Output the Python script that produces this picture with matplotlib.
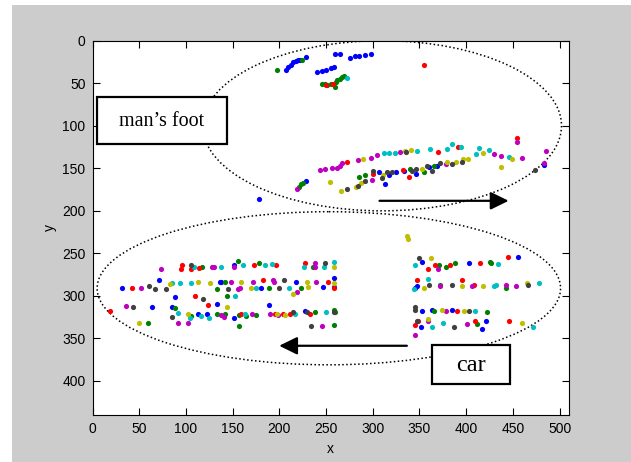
import matplotlib
matplotlib.use('Agg')
import matplotlib.pyplot as plt
from matplotlib import patches

# tracked feature points, one list of (x, y) per colour
blue_pts = [(206.7, 34.1), (209.6, 31), (212.4, 28.2), (214.9, 25.5), (217.4, 23.9),
            (219.5, 23.1), (221.6, 23.1), (228, 19.6), (259.3, 15.3), (265.2, 15.3),
            (275.9, 20.8), (280.9, 18), (285.1, 17.6), (291.2, 16.5), (298.2, 15.3),
            (240.8, 37.3), (245.7, 35.3), (250.3, 34.1), (255, 32.6), (258.5, 30.6),
            (178.7, 186.3), (228, 164.7), (307.1, 154.9), (313.1, 169), (317.8, 158.4),
            (324.8, 154.9), (333.3, 153.7), (346.1, 156.5), (359.9, 148.6), (368.4, 147),
            (483.6, 146.5),
            (31.2, 290.2), (71.6, 281.2), (87.9, 300.8), (64.2, 312.5), (85.5, 312.5),
            (112.4, 320.9), (122.7, 320.9), (133.3, 309.4), (151, 263.5), (136.2, 283.1),
            (137.6, 283.1), (151.8, 325.5), (180.1, 291), (189.4, 311), (217.4, 283.1),
            (227.3, 317.6), (246.8, 289.3), (258.2, 279.1), (258.2, 289),
            (352.2, 259.6), (403.2, 260.8), (455.7, 254.5), (347.1, 287.8), (345, 291),
            (352.6, 318.1), (363.8, 316.9), (385.1, 316.5), (351.8, 336.3), (421, 329.2),
            (417.4, 338.6)]

green_pts = [(198, 35), (224.5, 23.1), (245.7, 50.6), (248.6, 51.4), (251.4, 51.8),
             (255, 50.6), (259.9, 54.5), (260.3, 49), (262, 46.7), (264.6, 45.1),
             (267, 42.7), (268.8, 42), (221.3, 171.4), (223.7, 169), (225.5, 166.7),
             (285.1, 160.4), (291.8, 157.6), (339.7, 151), (354.3, 154.9), (365.2, 147),
             (116.7, 265.5), (155.3, 258.4), (178.7, 261.6), (236.2, 266.3), (141.5, 283.1),
             (133.3, 292.2), (189.4, 291), (222.7, 291), (143.6, 299.6), (88, 314.5),
             (58.9, 331.5), (105.3, 324), (133.3, 320.9), (141.5, 320.9), (156.7, 322.4),
             (164.5, 323.5), (175.2, 322.4), (238.3, 318.8), (258.2, 316.5), (259.3, 318.8),
             (156.7, 335.3), (258.2, 334.1),
             (370.6, 263.5), (378.7, 266.3), (388, 260.8), (425.1, 259.6), (426.6, 261.6),
             (372, 286.7), (442.9, 290.6), (365.2, 317.3), (422.7, 318.8), (412, 333)]

red_pts = [(249.6, 51.8), (257, 50.6), (355, 29), (272.3, 142.4), (369.5, 131.4),
           (391.1, 124.7), (454.6, 113.8), (300, 156.5), (332.6, 152.2), (339, 160.4),
           (96.1, 263.5), (95.1, 268.6), (105.3, 268.6), (114.5, 267.5), (173, 263.5),
           (196.8, 263.5), (227.3, 260.8), (182.3, 281.6), (251.8, 283.1), (258.2, 291),
           (41.8, 290.2), (109.9, 299.6), (18.8, 317.7), (124.1, 311), (159.2, 320.9),
           (195.4, 320.9), (203.5, 320.9), (211.7, 320.9), (232.3, 320.9),
           (358.8, 268.6), (366.7, 263.5), (382.3, 263.5), (414.9, 260.8), (444.3, 254.5),
           (347.1, 281.6), (395, 281.6), (408.1, 286.7), (390, 317.7), (348.6, 329.2),
           (344.7, 334.7), (409.9, 329.2), (446.3, 329.2)]

cyan_pts = [(272.7, 43.9), (312, 132.5), (317.8, 132.5), (323.7, 132.5), (347.2, 129.4),
            (361, 127.8), (379.4, 127.8), (384.4, 121.2), (394.7, 125), (411, 133.7),
            (413.8, 125.9), (424.1, 128.6), (446, 136.8),
            (108.5, 265.5), (138, 265.5), (161.3, 263.5), (184.8, 263.5), (191.8, 262.4),
            (225.9, 266.3), (247.5, 266.3), (258.2, 259.6), (85.1, 285.1), (94, 285.1),
            (105.7, 285.1), (174.5, 291), (210.6, 291), (152.8, 299.6), (91.1, 320.4),
            (104.2, 326.3), (115.9, 324), (125.2, 326.3), (162.8, 320.9), (217.1, 320.9),
            (250, 318.8),
            (345.1, 263.5), (434.4, 262), (358.8, 280.4), (429.8, 287.8), (431.6, 286.7),
            (478, 285.1), (409.9, 317.7), (344, 292), (363.5, 336.3), (375.2, 332),
            (472, 336.3)]

magenta_pts = [(218.8, 174.5), (243.3, 152.2), (248.9, 151), (256, 149.8), (261.7, 149.8),
               (264.6, 147), (266.7, 143.2), (284, 140.8), (297.9, 138), (305, 134),
               (328.7, 131.4), (299.3, 163.5), (378, 144.7), (429.8, 133.7), (437.2, 135.3),
               (459.2, 138), (454.6, 118.8), (482.8, 143.8), (485, 130),
               (73.8, 268.6), (128, 265.5), (129.8, 265.5), (151, 265.5), (238.3, 260.8),
               (238.3, 265.5), (51.4, 290.2), (147.9, 283.1), (171.6, 283.1), (192.9, 281.6),
               (194.3, 283.1), (239.7, 283.1), (155.3, 292.2), (157.8, 291), (218.4, 295),
               (35.5, 311.4), (91.1, 331.5), (101.8, 331.5), (138, 322.4), (141.2, 325.1),
               (170.6, 320.9), (190.4, 320.9), (199, 322), (245.4, 335.3),
               (370.2, 268.6), (372, 288), (406.7, 287.8), (442.9, 286.7), (453.2, 287.8),
               (378.7, 317.7), (358.8, 329.2), (400.7, 333.6), (344.7, 346.3)]

yellow_pts = [(290, 139.2), (334.4, 129.8), (340.8, 128.6), (254.6, 166.3), (265.6, 176.9),
              (281.6, 172.2), (287.6, 167.8), (311.4, 158.4), (352.9, 150.6), (379.4, 143),
              (389, 142), (396.3, 138.8), (402, 138.8), (418.4, 132.5), (437, 148.2),
              (448.9, 139.2),
              (258.2, 266.3), (83, 286.3), (112.4, 283.1), (126.2, 285.1), (158.9, 283.1),
              (229.1, 283.1), (258.2, 284.3), (169.5, 291), (214.9, 298), (230.9, 290),
              (144, 312.5), (49.3, 331.5), (101.8, 320.9), (197.9, 320.9), (206.1, 322.4),
              (336.2, 229.4), (337.2, 233.3), (362.5, 255.7), (355.3, 290.6), (395.7, 287.8),
              (418.4, 287.8), (464.9, 285.1), (373.7, 316.5), (397.8, 317.7), (358.8, 326.8),
              (459.8, 332)]

gray_pts = [(335.5, 131.4), (272.7, 174.1), (284.7, 170.6), (291.8, 165.1), (300.3, 152.6),
            (309.9, 161.6), (314.9, 154.9), (320.2, 154.9), (341.5, 153.7), (346.1, 151),
            (358.5, 147), (363.1, 152.6), (372, 144.3), (385.1, 144.7), (395, 142), (474, 152),
            (105.3, 263.5), (249, 260.8), (60.6, 287.8), (67, 292.2), (78.4, 292.2),
            (144.7, 292.2), (200, 291), (205.3, 281.6), (118.4, 303.9), (43.3, 312.5),
            (85.5, 324.7), (214.9, 319.4), (229.4, 318.8), (233.7, 335.3), (259, 319),
            (349.7, 255.7), (359.9, 286.7), (384.4, 286.7), (466.3, 286.7), (344.7, 312.6),
            (344.7, 316.9), (402.8, 317.7), (346.8, 329.2), (386.9, 336.3)]

series = [(blue_pts, '#0000ff'), (green_pts, '#008000'), (red_pts, '#ff0000'),
          (cyan_pts, '#00bfbf'), (magenta_pts, '#bf00bf'), (yellow_pts, '#bfbf00'),
          (gray_pts, '#404040')]

x_ticks = [0, 50, 100, 150, 200, 250, 300, 350, 400, 450, 500]
y_ticks = [0, 50, 100, 150, 200, 250, 300, 350, 400]

plt.rcParams['font.family'] = ['Liberation Sans Narrow', 'Liberation Sans', 'DejaVu Sans']

fig = plt.figure(figsize=(6.31, 4.62), dpi=100, facecolor='white')
fig.patches.append(patches.Rectangle((12 / 631, 0), 1, 1 - 5 / 462, transform=fig.transFigure,
                                     facecolor='#cccccc', edgecolor='none', zorder=-1))
ax = fig.add_axes([0.1466, 0.1017, 0.7551, 0.8102])

for pts, col in series:
    xs = [p[0] for p in pts]
    ys = [p[1] for p in pts]
    ax.scatter(xs, ys, s=14, c=col, marker='o', linewidths=0, zorder=3)

ax.set_xlim(0, 510)
ax.set_ylim(440, 0)
ax.set_xticks(x_ticks)
ax.set_yticks(y_ticks)
ax.tick_params(direction='in', length=5, width=0.8, top=True, right=True,
               labelsize=10, pad=5)
for sp in ax.spines.values():
    sp.set_linewidth(0.8)
ax.set_xlabel('x', fontsize=10)
ax.set_ylabel('y', fontsize=10)
ax.yaxis.set_label_coords(-0.075, 0.5)

# dotted ellipses round the two moving objects
dots = (0, (1, 1.6))
ax.add_patch(patches.Ellipse((310, 100), 384, 200, fill=False, ec='k', lw=1.1, ls=dots, zorder=2))
ax.add_patch(patches.Ellipse((253, 291), 496, 180, fill=False, ec='k', lw=1.1, ls=dots, zorder=2))

# direction arrows
arrow = dict(arrowstyle='-|>,head_length=0.55,head_width=0.27', mutation_scale=20,
             lw=1.6, color='k', shrinkA=0, shrinkB=0)
ax.annotate('', xy=(445.4, 188.2), xytext=(307.2, 188.2), arrowprops=arrow, zorder=4)
ax.annotate('', xy=(199.8, 358.6), xytext=(336.5, 358.6), arrowprops=arrow, zorder=4)

# labelled boxes
serif = ['Liberation Serif', 'DejaVu Serif']
ax.add_patch(patches.Rectangle((5.1, 65.9), 138.6, 56, fc='white', ec='k', lw=1.6, zorder=5))
ax.text(74.4, 95, "man\u2019s foot", ha='center', va='center', fontsize=14.5,
        family=serif, zorder=6)
ax.add_patch(patches.Rectangle((363.3, 358), 83.2, 45, fc='white', ec='k', lw=1.6, zorder=5))
ax.text(404.9, 382, 'car', ha='center', va='center', fontsize=17.5, family=serif, zorder=6)

fig.savefig('out.png', dpi=100, facecolor=fig.get_facecolor())
